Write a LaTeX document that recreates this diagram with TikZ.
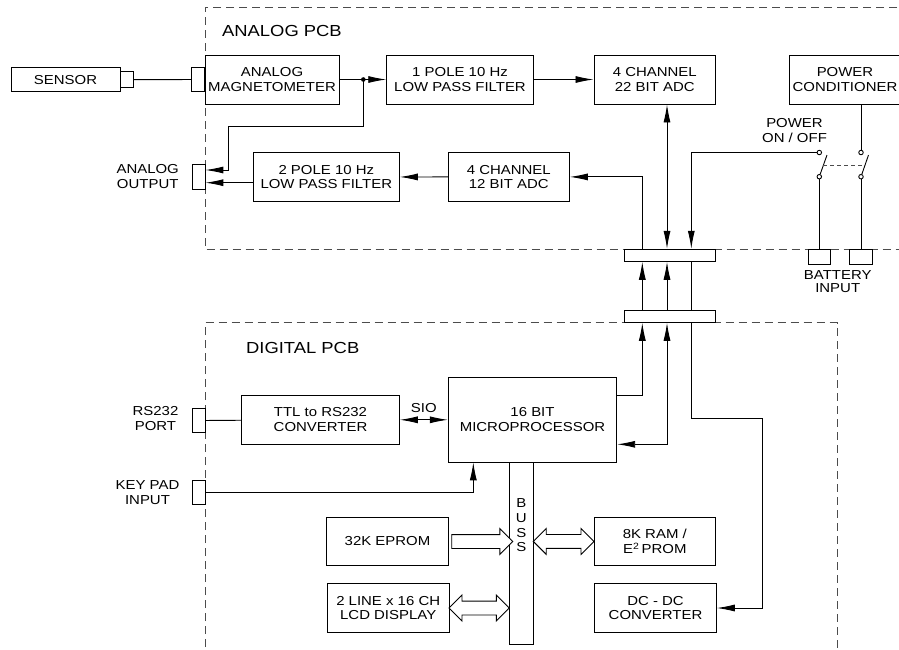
\documentclass[tikz,border=0pt]{standalone}
\usepackage{fontspec}
\setmainfont{Liberation Sans}[FakeStretch=1.15]
\usetikzlibrary{arrows.meta, positioning, calc, shapes.arrows}

\begin{document}
\begin{tikzpicture}[x=1pt, y=-1pt, line width=0.9pt,
    font=\fontsize{13}{14.7}\selectfont,
    box/.style={draw, fill=white, align=center, inner sep=0pt,
                minimum width=121.7pt, minimum height=48.5pt},
    plug/.style={draw, fill=white, inner sep=0pt,
                 minimum width=12.3pt, minimum height=24.3pt},
    term/.style={draw, fill=white, circle, inner sep=0pt, minimum size=4.5pt},
    lbl/.style={align=center, inner sep=0pt},
    title/.style={font=\fontsize{16}{19}\selectfont, anchor=west, inner sep=0pt},
    pcb/.style={draw=black!70, line width=0.8pt, dash pattern=on 8pt off 5pt},
    fat/.style={draw, fill=white, single arrow, single arrow head extend=6pt,
                single arrow head indent=0pt, inner xsep=0pt, inner ysep=6.5pt},
    fatboth/.style={draw, fill=white, double arrow, double arrow head extend=6pt,
                    double arrow head indent=0pt, inner xsep=0pt, inner ysep=6.5pt},
    >={Latex[length=18pt, width=7pt]}]
  \clip (0,0) rectangle (899,649);
  % board outlines
  \draw[pcb] (910,7) -| (205,249.3) -- (910,249.3);
  \draw[pcb] (205,660) |- (837,322.7) -- (837,660);
  \node[title] (apcb) at (221.7,30.7) {ANALOG PCB};
  \node[title] (dpcb) at (245.7,347.7) {DIGITAL PCB};

  % analog board
  \node[box, minimum width=109pt, minimum height=24pt] (sensor) at (65.5,79.7) {SENSOR};
  \node[plug, minimum height=16.3pt, right=0pt of sensor] (splug) {};
  \node[box, minimum width=134pt, minimum height=49pt] (mag) at (272,79.5) {ANALOG\\MAGNETOMETER};
  \node[plug, left=0pt of mag] (mplug) {};
  \node[box, minimum width=146.6pt, minimum height=49pt] (lpf1) at (460,79.5) {1 POLE 10 Hz\\LOW PASS FILTER};
  \node[box, minimum height=49pt] (adc22) at (654.8,79.5) {4 CHANNEL\\22 BIT ADC};
  \node[box, minimum width=112pt, minimum height=49pt] (pwrc) at (845,79.5) {POWER\\CONDITIONER};
  \node[box, minimum width=121pt] (adc12) at (508.8,176.9) {4 CHANNEL\\12 BIT ADC};
  \node[box, minimum width=146pt] (lpf2) at (326.3,177) {2 POLE 10 Hz\\LOW PASS FILTER};
  \node[plug, minimum height=24.7pt] (aplug) at (198.8,176.7) {};
  \node[lbl] (aout) at (147.7,176.5) {ANALOG\\OUTPUT};

  \node[term] (s1a) at (819.3,152.5) {};
  \node[term] (s1b) at (819.3,176.7) {};
  \node[term] (s2a) at (861,152.5) {};
  \node[term] (s2b) at (861,176.7) {};
  \coordinate (bl1) at (827,155);
  \coordinate (bl2) at (868.5,155);
  \node[lbl] (pwrsw) at (794.5,130.8) {POWER\\ON / OFF};
  \node[box, minimum width=22pt, minimum height=15pt] (batt1) at (819.3,256.8) {};
  \node[box, minimum width=22.4pt, minimum height=15pt] (batt2) at (861,256.8) {};
  \node[lbl] (batt) at (837.7,281.3) {BATTERY\\[-1.4pt]INPUT};

  \node[box, minimum width=91pt, minimum height=12pt] (bar1) at (669.8,255.3) {};
  \node[box, minimum width=91pt, minimum height=11.6pt] (bar2) at (669.8,316.5) {};
  \coordinate (la) at (642.3,0);
  \coordinate (lb) at (667,0);
  \coordinate (lc) at (691.3,0);

  \coordinate (jn) at (363.3,79.5);
  \coordinate (ak) at (228.3,126.7);
  \draw (splug) -- (mplug);
  \draw (mag) -- (jn);
  \draw[->] (jn) -- (lpf1);
  \fill (jn) circle (2.3);
  \draw[->] (lpf1) -- (adc22);
  \draw[->] (jn) |- (ak) |- ([yshift=6.7pt]aplug.east);
  \draw[->] ([yshift=-5.7pt]lpf2.west) -- ([yshift=-5.7pt]lpf2.west -| aplug.east);
  \draw[->] (adc12) -- (lpf2);
  \draw[->] (la |- bar1.north) |- (adc12.east);
  \draw[<->] (lb |- bar1.north) -- (lb |- adc22.south);
  \draw[->] (s1a) -| (lc |- bar1.north);
  \draw (s2a |- pwrc.south) -- (s2a);
  \draw (s1b) -- (bl1);
  \draw (s2b) -- (bl2);
  \draw[draw=black!70, dash pattern=on 4pt off 3pt]
    ($(s1b)!0.5!(bl1)$) -- ($(s2b)!0.5!(bl2)$);
  \draw (s1b) -- (s1b |- batt1.north);
  \draw (s2b) -- (s2b |- batt2.north);
  \draw[->] (la |- bar2.north) -- (la |- bar1.south);
  \draw[->] (lb |- bar2.north) -- (lb |- bar1.south);
  \draw (lc |- bar2.north) -- (lc |- bar1.south);

  % digital board
  \node[plug, minimum height=24.4pt] (rsplug) at (198.8,420.5) {};
  \node[lbl] (rs) at (155.5,418.8) {RS232\\PORT};
  \node[box, minimum width=157.6pt] (ttl) at (320.5,419.8) {TTL to RS232\\CONVERTER};
  \node[box, minimum width=168.4pt, minimum height=85pt] (cpu) at (532.5,419.8) {16 BIT\\MICROPROCESSOR};
  \node[plug, minimum height=24pt] (keyplug) at (198.8,492) {};
  \node[lbl] (key) at (147.5,492.5) {KEY PAD\\INPUT};
  \node[box, minimum width=24pt, minimum height=181.7pt] (buss) at (521.3,553.2) {};
  \node[lbl] (busstxt) at (521.3,525.5) {B\\U\\S\\S};
  \node[box, minimum width=121.6pt] (eprom) at (387.5,541.5) {32K EPROM};
  \node[box, minimum height=49.4pt] (lcd) at (388.2,608) {2 LINE x 16 CH\\LCD DISPLAY};
  \node[box] (ram) at (654.8,541.4) {8K RAM /\\E\textsuperscript{2}\,PROM};
  \node[box, minimum width=121.6pt] (dcdc) at (655.5,608) {DC - DC\\CONVERTER};

  \coordinate (kp) at (473.3,462.3);
  \coordinate (dcr) at (762.3,418.3);
  \draw (rsplug) -- (ttl);
  \draw[<->] (ttl) -- node[above=7pt, inner sep=0pt] (sio) {SIO} (cpu);
  \draw[->] (keyplug) -| (kp);
  \draw[->] ([yshift=24.1pt]cpu.east) -| (la |- bar2.south);
  \draw[<->] ([yshift=-24.5pt]cpu.east) -| (lb |- bar2.south);
  \draw[->] (lc |- bar2.south) |- (dcr) |- (dcdc.east);
  \node[fat, minimum height=61pt] (a1) at ($(eprom.east)!0.5!(eprom.east -| buss.west)$) {};
  \node[fatboth, minimum height=60.3pt] (a2) at ($(lcd.east)!0.5!(lcd.east -| buss.west)$) {};
  \node[fatboth, minimum height=60.7pt] (a3) at ($(ram.west -| buss.east)!0.5!(ram.west)$) {};
\end{tikzpicture}
\end{document}
